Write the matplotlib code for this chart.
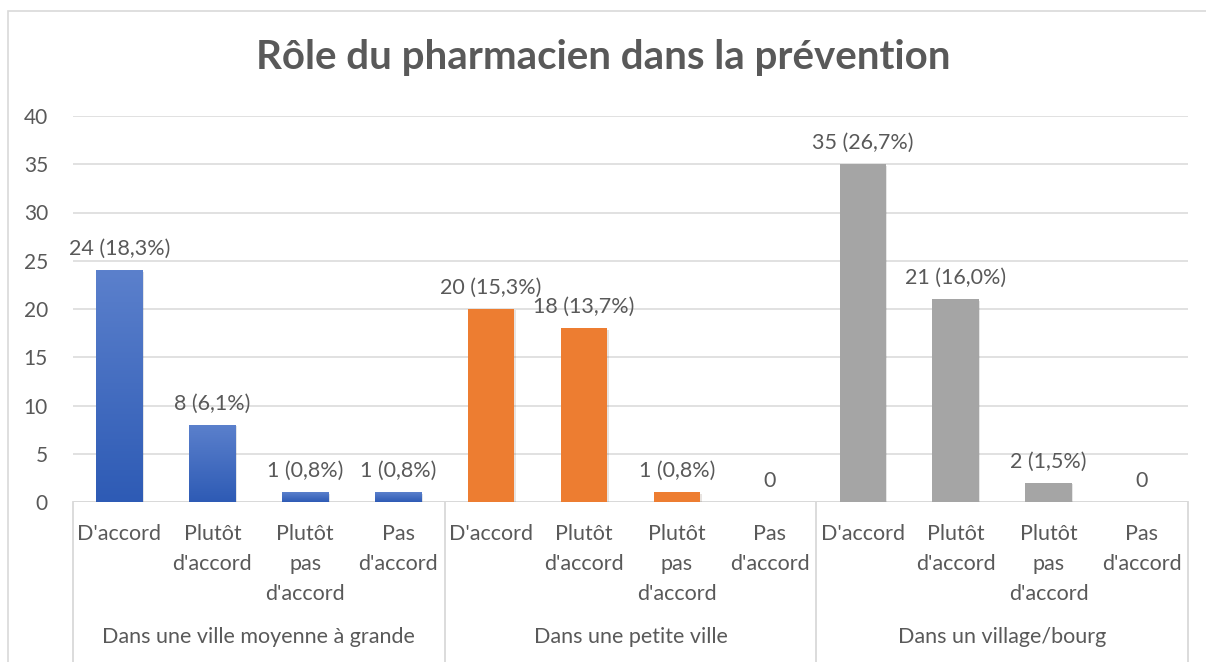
import numpy as np
import matplotlib.pyplot as plt
from matplotlib.patches import Rectangle
from matplotlib.colors import LinearSegmentedColormap
import matplotlib.patheffects as pe

plt.rcParams['font.family'] = ['Lato', 'DejaVu Sans']

groups = ["Dans une ville moyenne à grande", "Dans une petite ville", "Dans un village/bourg"]
answers = ["D'accord", "Plutôt\nd'accord", "Plutôt\npas\nd'accord", "Pas\nd'accord"]
counts = [[24, 8, 1, 1], [20, 18, 1, 0], [35, 21, 2, 0]]
pcts = [["18,3", "6,1", "0,8", "0,8"], ["15,3", "13,7", "0,8", ""], ["26,7", "16,0", "1,5", ""]]
colors = ["#4472C4", "#ED7D31", "#A5A5A5"]
txt = "#595959"

fig = plt.figure(figsize=(12.06, 6.62), dpi=100)
# chart border
fig.patches.append(Rectangle((8/1206, -0.01), 1.0, 1 - 11/662 + 0.01, transform=fig.transFigure,
                             fill=False, edgecolor="#D9D9D9", lw=1.2))
ax = fig.add_axes([73/1206, 160/662, (1188-73)/1206, (502-116)/662])

ax.set_ylim(0, 40)
ax.set_xlim(-0.5, 11.5)
ax.set_yticks(range(0, 41, 5))
ax.grid(axis='y', color="#D9D9D9", lw=1.1)
ax.set_axisbelow(True)
for s in ax.spines.values():
    s.set_visible(False)
ax.axhline(0, color="#D9D9D9", lw=1.3, zorder=1)
ax.tick_params(axis='y', length=0, pad=18, labelsize=15, labelcolor=txt)
ax.tick_params(axis='x', length=0, pad=16, labelsize=15.5, labelcolor=txt)

xpos = []
xlabels = []
for g in range(3):
    for i in range(4):
        x = g * 4 + i
        v = counts[g][i]
        xpos.append(x)
        xlabels.append(answers[i])
        if v > 0:
            bars = ax.bar(x, v, width=0.5, color=colors[g], zorder=2)
            b = bars[0]
            b.set_path_effects([pe.SimplePatchShadow(offset=(1, -1), alpha=0.12), pe.Normal()])
            if g == 0:
                grad = np.linspace(0, 1, 100).reshape(-1, 1)
                im = ax.imshow(grad, extent=[x - 0.25, x + 0.25, 0, v], aspect='auto',
                               cmap=LinearSegmentedColormap.from_list("b", ["#2E5BB5", "#5B80CC"]),
                               origin='lower', zorder=3)
                im.set_clip_path(b)
            lab = f"{v} ({pcts[g][i]}%)"
        else:
            lab = "0"
        ax.annotate(lab, (x, v), xytext=(0, 8), textcoords='offset points',
                    ha='center', va='bottom', fontsize=15.5, color=txt)

ax.set_xticks(xpos)
ax.set_xticklabels(xlabels, va='top', linespacing=1.62)

# group labels and separators
for g in range(3):
    ax.text(g * 4 + 1.5, -0.35, groups[g], transform=ax.get_xaxis_transform(),
            ha='center', va='center', fontsize=15.5, color=txt)
for xs in [-0.5, 3.5, 7.5, 11.5]:
    ax.plot([xs, xs], [0, -0.45], transform=ax.get_xaxis_transform(), color="#D9D9D9",
            lw=1.3, clip_on=False)

fig.text(0.5, 1 - 58/662, "Rôle du pharmacien dans la prévention", ha='center', va='center',
         fontsize=29, fontweight='bold', color=txt)

fig.savefig("out.png", dpi=100)
